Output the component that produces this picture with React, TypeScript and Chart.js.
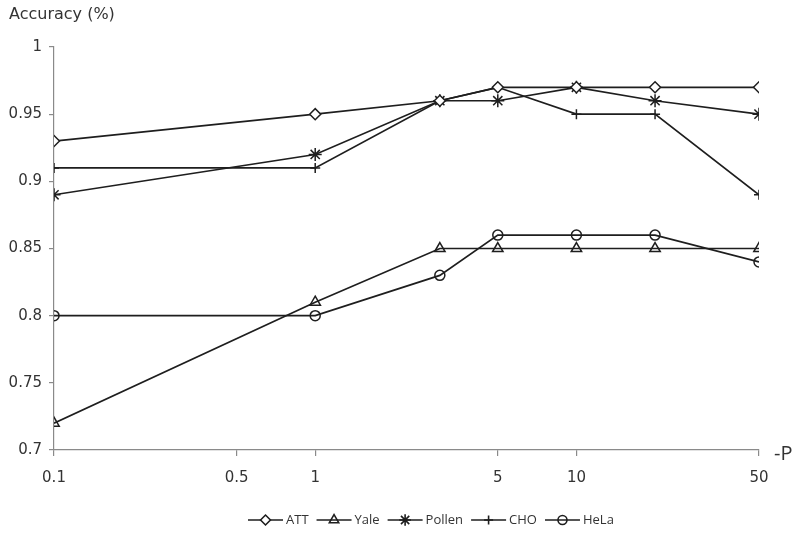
import React, { useEffect, useRef } from "react";
import { Chart, registerables } from "chart.js";
import { drawPoint } from "chart.js/helpers";

Chart.register(...registerables);

const pValues = [0.1, 1, 3, 5, 10, 20, 50];
const xTickValues = [0.1, 0.5, 1, 5, 10, 50];
const yTickValues = [0.7, 0.75, 0.8, 0.85, 0.9, 0.95, 1];

const seriesNames = ["ATT", "Yale", "Pollen", "CHO", "HeLa"];
const attValues = [0.93, 0.95, 0.96, 0.97, 0.97, 0.97, 0.97];
const yaleValues = [0.72, 0.81, 0.85, 0.85, 0.85, 0.85, 0.85];
const pollenValues = [0.89, 0.92, 0.96, 0.96, 0.97, 0.96, 0.95];
const choValues = [0.91, 0.91, 0.96, 0.97, 0.95, 0.95, 0.89];
const helaValues = [0.8, 0.8, 0.83, 0.86, 0.86, 0.86, 0.84];

const yTitle = "Accuracy (%)";
const xTitle = "-P";

const LINE = "#1e1e1e";
const AXIS = "#8a8a8a";
const TEXT = "#333333";

const styles = [
  { pointStyle: "rectRot", radius: 5.5, fill: "#ffffff" },
  { pointStyle: "triangle", radius: 6, fill: "rgba(0,0,0,0)" },
  { pointStyle: "star", radius: 6.5, fill: "rgba(0,0,0,0)" },
  { pointStyle: "cross", radius: 5, fill: "rgba(0,0,0,0)" },
  { pointStyle: "circle", radius: 5, fill: "rgba(0,0,0,0)" },
];

const allValues = [attValues, yaleValues, pollenValues, choValues, helaValues];

const extrasPlugin = {
  id: "extras",
  afterDraw(chart: any) {
    const ctx = chart.ctx;
    const area = chart.chartArea;
    ctx.save();
    ctx.fillStyle = TEXT;
    ctx.font = '16px "DejaVu Sans"';
    ctx.textAlign = "left";
    ctx.textBaseline = "middle";
    ctx.fillText(yTitle, 9, 15);
    ctx.font = '20px "Open Sans"';
    ctx.fillText(xTitle, area.right + 15, area.bottom + 4);

    // legend
    ctx.font = '13px "Open Sans"';
    const segLen = 35;
    const gapText = 3;
    const gapItem = 8;
    const widths = seriesNames.map((n) => ctx.measureText(n).width);
    let x = 248;
    const y = 520;
    seriesNames.forEach((name, i) => {
      const st = styles[i];
      ctx.strokeStyle = LINE;
      ctx.lineWidth = 1.6;
      ctx.beginPath();
      ctx.moveTo(x, y);
      ctx.lineTo(x + segLen, y);
      ctx.stroke();
      ctx.fillStyle = st.fill;
      drawPoint(
        ctx,
        {
          pointStyle: st.pointStyle,
          radius: st.radius * 0.9,
          rotation: 0,
          borderWidth: 1.5,
        },
        x + segLen / 2,
        y
      );
      ctx.fillStyle = TEXT;
      ctx.textAlign = "left";
      ctx.textBaseline = "middle";
      ctx.fillText(name, x + segLen + gapText, y);
      x += segLen + gapText + widths[i] + gapItem;
    });
    ctx.restore();
  },
};

export default function App() {
  const canvasRef = useRef<HTMLCanvasElement | null>(null);

  useEffect(() => {
    if (!canvasRef.current) return;
    const datasets = seriesNames.map((name, i) => ({
      label: name,
      data: pValues.map((p, j) => ({ x: p, y: allValues[i][j] })),
      borderColor: LINE,
      borderWidth: 1.7,
      backgroundColor: styles[i].fill,
      pointStyle: styles[i].pointStyle,
      pointRadius: styles[i].radius,
      pointBorderColor: LINE,
      pointBorderWidth: 1.5,
      pointBackgroundColor: styles[i].fill,
      tension: 0,
      fill: false,
    }));

    const chart = new Chart(canvasRef.current, {
      type: "line",
      data: { datasets },
      plugins: [extrasPlugin],
      options: {
        animation: false,
        responsive: true,
        maintainAspectRatio: false,
        layout: { padding: { top: 47, right: 41, left: 0, bottom: 0 } },
        plugins: {
          legend: { display: false },
          title: { display: false },
          tooltip: { enabled: false },
        },
        scales: {
          x: {
            type: "logarithmic",
            min: 0.1,
            max: 50,
            afterBuildTicks: (scale: any) => {
              scale.ticks = xTickValues.map((v) => ({ value: v }));
            },
            afterFit: (scale: any) => {
              scale.height = 83;
            },
            border: { display: true, color: AXIS, width: 1.2 },
            grid: {
              drawOnChartArea: false,
              drawTicks: true,
              tickLength: 6,
              color: AXIS,
              lineWidth: 1.2,
            },
            ticks: {
              autoSkip: false,
              maxRotation: 0,
              padding: 13,
              color: TEXT,
              font: { family: "DejaVu Sans", size: 15 },
              callback: (v: any) => String(Number(v)),
            },
          },
          y: {
            type: "linear",
            min: 0.7,
            max: 1,
            afterBuildTicks: (scale: any) => {
              scale.ticks = yTickValues.map((v) => ({ value: v }));
            },
            afterFit: (scale: any) => {
              scale.width = 54;
            },
            border: { display: true, color: AXIS, width: 1.2 },
            grid: {
              drawOnChartArea: false,
              drawTicks: true,
              tickLength: 5,
              color: AXIS,
              lineWidth: 1.2,
            },
            ticks: {
              padding: 7,
              color: TEXT,
              font: { family: "DejaVu Sans", size: 15 },
              callback: (v: any) => String(Number(Number(v).toFixed(2))),
            },
          },
        },
      },
    });
    return () => chart.destroy();
  }, []);

  return (
    <div style={{ position: "absolute", left: 0, top: 0, width: 800, height: 533, background: "#ffffff" }}>
      <canvas ref={canvasRef} />
    </div>
  );
}
